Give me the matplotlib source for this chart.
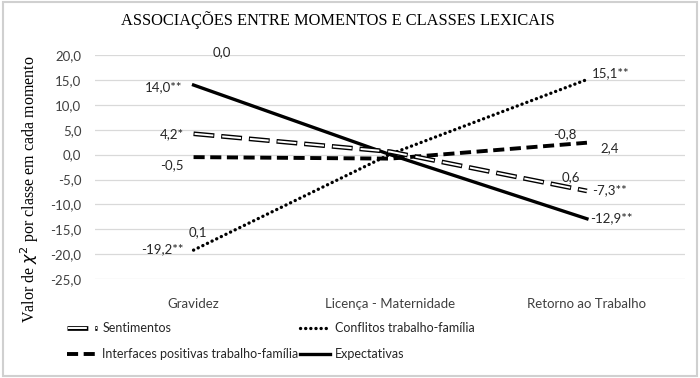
import numpy as np
import matplotlib
matplotlib.use('Agg')
import matplotlib.pyplot as plt
from matplotlib.legend_handler import HandlerTuple
from matplotlib.patches import Rectangle

plt.rcParams['lines.scale_dashes'] = False

# Data
momentos = ['Gravidez', 'Licença - Maternidade', 'Retorno ao Trabalho']
sentimentos = [4.2, 0.6, -7.3]
conflitos = [-19.2, 0.1, 15.1]
interfaces = [-0.5, -0.8, 2.4]
expectativas = [14.0, 0.0, -12.9]
yticks = np.arange(-25, 25, 5)

# labels: (series, point index, text, offset px, ha)
labels = [
    (expectativas, 0, '14,0**', (-11, -2), 'right'),
    (expectativas, 0, '0,0', (28, 33), 'center'),
    (sentimentos, 0, '4,2*', (-10, 0), 'right'),
    (interfaces, 0, '-0,5', (-10, -8), 'right'),
    (conflitos, 0, '-19,2**', (-10, 1), 'right'),
    (conflitos, 0, '0,1', (4, 18), 'center'),
    (conflitos, 2, '15,1**', (5, 6), 'left'),
    (interfaces, 2, '2,4', (13, -5), 'left'),
    (interfaces, 2, '-0,8', (-22, 9), 'center'),
    (sentimentos, 2, '-7,3**', (5, 1), 'left'),
    (sentimentos, 2, '0,6', (-16, 14), 'center'),
    (expectativas, 2, '-12,9**', (3, 1), 'left'),
]

tick_font = 'Lato'
txt_color = '#404040'

fig = plt.figure(figsize=(7, 3.78), dpi=100)
fig.patch.set_facecolor('white')
ax = fig.add_axes([0.136, 0.262, 0.843, 0.592])
x = np.arange(len(momentos))

# Sentimentos: double (outlined) dashed line
sent_out, = ax.plot(x, sentimentos, color='black', lw=3.4,
                    linestyle=(0, (15.0, 5.0)), dash_capstyle='butt', zorder=3)
sent_in, = ax.plot(x, sentimentos, color='white', lw=1.4,
                   linestyle=(19.3, (13.6, 6.4)), dash_capstyle='butt', zorder=4)
conf_line, = ax.plot(x, conflitos, color='black', lw=2.4, linestyle=(0, (0.1, 3.6)),
                     dash_capstyle='round', zorder=3)
inter_line, = ax.plot(x, interfaces, color='black', lw=2.8, linestyle=(0, (8.0, 4.0)),
                      dash_capstyle='butt', zorder=3)
exp_line, = ax.plot(x, expectativas, color='black', lw=2.4, zorder=3)

for serie, i, txt, off, ha in labels:
    ax.annotate(txt, xy=(x[i], serie[i]), xytext=off, textcoords='offset pixels',
                ha=ha, va='center', fontsize=9.5, family=tick_font, color='#262626')

ax.set_xlim(-0.5, 2.5)
ax.set_ylim(-25, 20)
ax.set_yticks(yticks)
ax.set_yticklabels([f'{v:.1f}'.replace('.', ',') for v in yticks],
                   family=tick_font, fontsize=9.5, color=txt_color)
ax.set_xticks(x)
ax.set_xticklabels(momentos, family=tick_font, fontsize=9.5, color=txt_color)
ax.tick_params(axis='both', length=0)
ax.tick_params(axis='x', pad=14)
ax.tick_params(axis='y', pad=10)
ax.grid(axis='y', color='#d9d9d9', lw=0.9)
ax.set_axisbelow(True)
for spine in ax.spines.values():
    spine.set_visible(False)

fig.text(0.483, 0.947, 'ASSOCIAÇÕES ENTRE MOMENTOS E CLASSES LEXICAIS',
         ha='center', va='center', family='Liberation Serif', fontsize=11.8)
fig.text(0.042, 0.5, r'Valor de $\chi^2$ por classe em cada momento', rotation=90,
         ha='center', va='center', family='Liberation Serif', fontsize=11.5)

# legend (column-major order so rows read Sentimentos/Conflitos, Interfaces/Expectativas)
handles = [(sent_out, sent_in), inter_line, conf_line, exp_line]
names = ['Sentimentos', 'Interfaces positivas trabalho-família',
         'Conflitos trabalho-família', 'Expectativas']
leg = fig.legend(handles, names, loc='upper left', bbox_to_anchor=(0.08, 0.178),
                 ncol=2, frameon=False, handlelength=2.4, handletextpad=0.4,
                 columnspacing=0.1, labelspacing=1.15,
                 handler_map={tuple: HandlerTuple(ndivide=1, pad=0)},
                 prop={'family': tick_font, 'size': 9})
for t in leg.get_texts():
    t.set_color('#262626')

fig.patches.append(Rectangle((0.004, 0.006), 0.992, 0.99, transform=fig.transFigure,
                             fill=False, edgecolor='#d0d0d0', lw=1.5))

fig.savefig('out.png', dpi=100)
